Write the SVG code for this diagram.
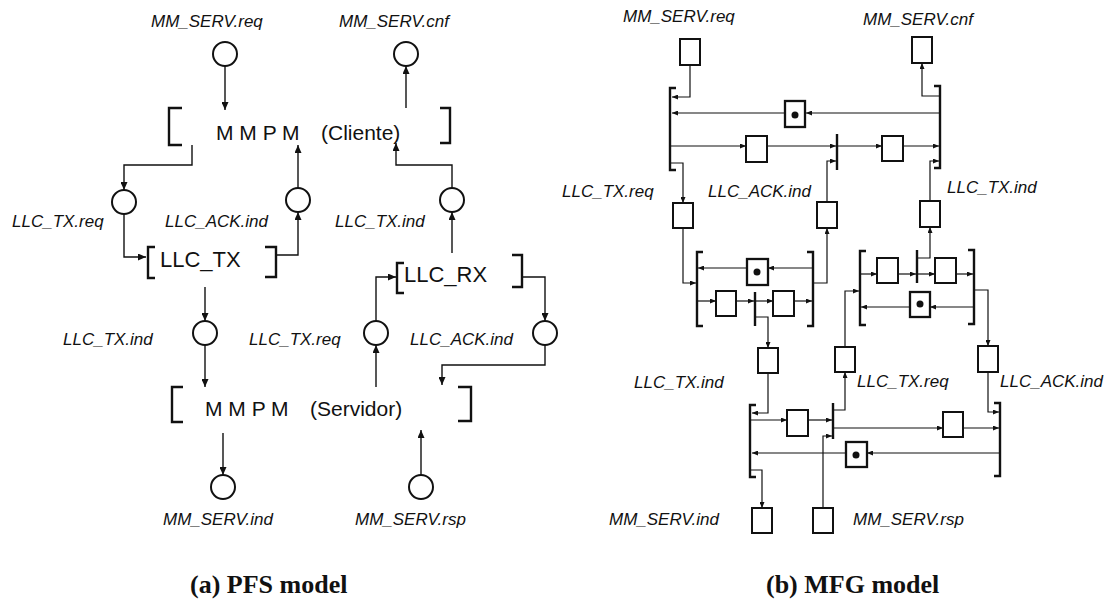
<svg xmlns="http://www.w3.org/2000/svg" width="1109" height="604" viewBox="0 0 1109 604">
<defs>
<marker id="a" viewBox="0 0 8 7" refX="8" refY="3.5" markerWidth="8" markerHeight="7" markerUnits="userSpaceOnUse" orient="auto"><path d="M0,0 L8,3.5 L0,7 z" fill="#111"/></marker>
<marker id="s" viewBox="0 0 6 5" refX="6" refY="2.5" markerWidth="6" markerHeight="5" markerUnits="userSpaceOnUse" orient="auto"><path d="M0,0 L6,2.5 L0,5 z" fill="#111"/></marker>
<style>
.ln{fill:none;stroke:#111;stroke-width:1.4;marker-end:url(#a)}
.rl{fill:none;stroke:#111;stroke-width:1.2;marker-end:url(#s)}
.c{fill:#fff;stroke:#111;stroke-width:2}
.br{fill:none;stroke:#111;stroke-width:2.4}
.bar{fill:none;stroke:#111;stroke-width:2.4}
.bx{fill:#fff;stroke:#111;stroke-width:2}
.dbx{fill:#fff;stroke:#111;stroke-width:2.3}
.dot{fill:#111}
.lbl{font-family:"Liberation Sans",Arial,sans-serif;font-style:italic;font-size:17px;fill:#111}
.big{font-family:"Liberation Sans",Arial,sans-serif;font-size:21px;fill:#111}
.cap{font-family:"Liberation Serif","Times New Roman",serif;font-weight:bold;font-size:26px;fill:#111}
</style>
</defs>
<rect width="1109" height="604" fill="#fff"/>

<g id="connectors">
<!-- PFS -->
<path class="ln" d="M225,66 V110"/>
<path class="ln" d="M192,145 V165 H124 V190"/>
<path class="ln" d="M124,214 V257 H146"/>
<path class="ln" d="M277,255 H298 V212"/>
<path class="ln" d="M298,188 V145"/>
<path class="ln" d="M406,108 V66"/>
<path class="ln" d="M452,253 V212"/>
<path class="ln" d="M452,188 V165 H396 V143"/>
<path class="ln" d="M205,287 V321"/>
<path class="ln" d="M205,345 V387"/>
<path class="ln" d="M376,387 V345"/>
<path class="ln" d="M376,321 V277 H396"/>
<path class="ln" d="M522,277 H545 V321"/>
<path class="ln" d="M545,345 V365 H442 V385"/>
<path class="ln" d="M223,433 V475"/>
<path class="ln" d="M421,475 V430"/>
<!-- MFG top block -->
<path class="rl" d="M690,65 V97 H672"/>
<path class="rl" d="M939,113 H806"/>
<path class="rl" d="M785,113 H672"/>
<path class="rl" d="M671,146 H746"/>
<path class="rl" d="M767,146 H836"/>
<path class="rl" d="M838,146 H882"/>
<path class="rl" d="M903,146 H939"/>
<path class="rl" d="M827,202 V161 H836"/>
<path class="rl" d="M930,201 V161 H939"/>
<path class="rl" d="M940,96 H922 V63"/>
<path class="rl" d="M671,163 H683 V203"/>
<!-- sub-block 1 -->
<path class="rl" d="M683,228 V283 H696"/>
<path class="rl" d="M812,268 H768"/>
<path class="rl" d="M747,268 H698"/>
<path class="rl" d="M698,301 H716"/>
<path class="rl" d="M736,301 H754"/>
<path class="rl" d="M756,301 H773"/>
<path class="rl" d="M794,301 H812"/>
<path class="rl" d="M755,317 H768 V348"/>
<path class="rl" d="M813,283 H827 V228"/>
<!-- sub-block 2 -->
<path class="rl" d="M845,347 V291 H859"/>
<path class="rl" d="M861,274 H877"/>
<path class="rl" d="M898,274 H916"/>
<path class="rl" d="M918,274 H935"/>
<path class="rl" d="M956,274 H973"/>
<path class="rl" d="M973,307 H930"/>
<path class="rl" d="M910,307 H861"/>
<path class="rl" d="M917,258 H930 V227"/>
<path class="rl" d="M974,290 H988 V346"/>
<!-- bottom block -->
<path class="rl" d="M768,373 V413 H752"/>
<path class="rl" d="M751,420 H787"/>
<path class="rl" d="M808,420 H832"/>
<path class="rl" d="M823,508 V436 H832"/>
<path class="rl" d="M834,410 H845 V372"/>
<path class="rl" d="M834,428 H943"/>
<path class="rl" d="M963,428 H999"/>
<path class="rl" d="M988,372 V412 H999"/>
<path class="rl" d="M999,453 H867"/>
<path class="rl" d="M846,453 H752"/>
<path class="rl" d="M751,470 H762 V508"/>
</g>

<!-- PFS places -->
<g id="pfs-mm-serv-req"><circle class="c" cx="225" cy="54" r="12"/><text class="lbl" x="151" y="27">MM_SERV.req</text></g>
<g id="pfs-mm-serv-cnf"><circle class="c" cx="406" cy="54" r="12"/><text class="lbl" x="339" y="27">MM_SERV.cnf</text></g>
<g id="pfs-llc-tx-req-1"><circle class="c" cx="124" cy="202" r="12"/><text class="lbl" x="12" y="227">LLC_TX.req</text></g>
<g id="pfs-llc-ack-ind-1"><circle class="c" cx="298" cy="200" r="12"/><text class="lbl" x="165" y="227">LLC_ACK.ind</text></g>
<g id="pfs-llc-tx-ind-1"><circle class="c" cx="452" cy="200" r="12"/><text class="lbl" x="335" y="227">LLC_TX.ind</text></g>
<g id="pfs-llc-tx-ind-2"><circle class="c" cx="205" cy="333" r="12"/><text class="lbl" x="63" y="345">LLC_TX.ind</text></g>
<g id="pfs-llc-tx-req-2"><circle class="c" cx="376" cy="333" r="12"/><text class="lbl" x="249" y="345">LLC_TX.req</text></g>
<g id="pfs-llc-ack-ind-2"><circle class="c" cx="545" cy="333" r="12"/><text class="lbl" x="410" y="345">LLC_ACK.ind</text></g>
<g id="pfs-mm-serv-ind"><circle class="c" cx="223" cy="487" r="12"/><text class="lbl" x="163" y="525">MM_SERV.ind</text></g>
<g id="pfs-mm-serv-rsp"><circle class="c" cx="421" cy="487" r="12"/><text class="lbl" x="355" y="525">MM_SERV.rsp</text></g>

<!-- PFS activities -->
<g id="pfs-mmpm-cliente"><path class="br" d="M182,108 H169 V145 H182"/><path class="br" d="M440,108 H450 V143 H440"/><text class="big" y="140"><tspan x="216">M M P M</tspan><tspan x="321">(Cliente)</tspan></text></g>
<g id="pfs-llc-tx"><path class="br" d="M155,247 H148 V278 H155"/><path class="br" d="M265,247 H276 V277 H265"/><text class="big" x="160" y="267" style="font-size:22px">LLC_TX</text></g>
<g id="pfs-llc-rx"><path class="br" d="M404,263 H397 V293 H404"/><path class="br" d="M512,255 H522 V287 H512"/><text class="big" x="404" y="282" style="font-size:22px">LLC_RX</text></g>
<g id="pfs-mmpm-servidor"><path class="br" d="M183,387 H172 V422 H183"/><path class="br" d="M458,387 H471 V421 H458"/><text class="big" y="416"><tspan x="205">M M P M</tspan><tspan x="310">(Servidor)</tspan></text></g>

<!-- MFG labels -->
<g id="mfg-labels">
<text class="lbl" x="623" y="22">MM_SERV.req</text>
<text class="lbl" x="863" y="25">MM_SERV.cnf</text>
<text class="lbl" x="562" y="197">LLC_TX.req</text>
<text class="lbl" x="708" y="197">LLC_ACK.ind</text>
<text class="lbl" x="947" y="193">LLC_TX.ind</text>
<text class="lbl" x="634" y="388">LLC_TX.ind</text>
<text class="lbl" x="857" y="387">LLC_TX.req</text>
<text class="lbl" x="1000" y="387">LLC_ACK.ind</text>
<text class="lbl" x="609" y="525">MM_SERV.ind</text>
<text class="lbl" x="853" y="525">MM_SERV.rsp</text>
</g>

<!-- MFG boxes -->
<g id="mfg-req"><rect class="bx" x="680" y="39" width="20" height="26"/></g>
<g id="mfg-cnf"><rect class="bx" x="912" y="37" width="20" height="26"/></g>
<g id="mfg-d1"><rect class="dbx" x="785" y="101" width="20" height="26"/><circle class="dot" cx="795" cy="115" r="3.5"/></g>
<g id="mfg-b1"><rect class="bx" x="746" y="136" width="21" height="26"/></g>
<g id="mfg-b2"><rect class="bx" x="882" y="136" width="21" height="25"/></g>
<g id="mfg-llc-tx-req-1"><rect class="bx" x="673" y="203" width="20" height="25"/></g>
<g id="mfg-llc-ack-ind-1"><rect class="bx" x="817" y="202" width="20" height="26"/></g>
<g id="mfg-llc-tx-ind-1"><rect class="bx" x="920" y="201" width="20" height="26"/></g>
<g id="mfg-d2"><rect class="dbx" x="747" y="259" width="21" height="26"/><circle class="dot" cx="757" cy="272" r="3.5"/></g>
<g id="mfg-s1a"><rect class="bx" x="716" y="291" width="20" height="25"/></g>
<g id="mfg-s1b"><rect class="bx" x="773" y="291" width="21" height="25"/></g>
<g id="mfg-s2a"><rect class="bx" x="877" y="258" width="21" height="25"/></g>
<g id="mfg-s2b"><rect class="bx" x="935" y="258" width="21" height="25"/></g>
<g id="mfg-d3"><rect class="dbx" x="910" y="292" width="20" height="25"/><circle class="dot" cx="920" cy="304" r="3.5"/></g>
<g id="mfg-llc-tx-ind-2"><rect class="bx" x="758" y="348" width="20" height="25"/></g>
<g id="mfg-llc-tx-req-2"><rect class="bx" x="835" y="347" width="20" height="25"/></g>
<g id="mfg-llc-ack-ind-2"><rect class="bx" x="978" y="346" width="20" height="26"/></g>
<g id="mfg-c1"><rect class="bx" x="787" y="410" width="21" height="26"/></g>
<g id="mfg-c3"><rect class="bx" x="943" y="412" width="20" height="25"/></g>
<g id="mfg-d4"><rect class="dbx" x="846" y="442" width="21" height="25"/><circle class="dot" cx="856" cy="455" r="3.5"/></g>
<g id="mfg-mm-serv-ind"><rect class="bx" x="752" y="508" width="20" height="25"/></g>
<g id="mfg-mm-serv-rsp"><rect class="bx" x="813" y="508" width="20" height="25"/></g>

<!-- MFG bars -->
<g id="mfg-top-left"><path class="bar" d="M676,88 H670 V170 H676"/></g>
<g id="mfg-top-right"><path class="bar" d="M934,86 H940 V168 H934"/></g>
<g id="mfg-top-mid"><path class="bar" d="M837,134 V170"/></g>
<g id="mfg-s1-left"><path class="bar" d="M703,252 H697 V326 H703"/></g>
<g id="mfg-s1-right"><path class="bar" d="M807,252 H813 V326 H807"/></g>
<g id="mfg-s1-mid"><path class="bar" d="M755,292 V326"/></g>
<g id="mfg-s2-left"><path class="bar" d="M866,251 H860 V325 H866"/></g>
<g id="mfg-s2-right"><path class="bar" d="M968,250 H974 V324 H968"/></g>
<g id="mfg-s2-mid"><path class="bar" d="M917,250 V283"/></g>
<g id="mfg-bot-left"><path class="bar" d="M756,405 H750 V477 H756"/></g>
<g id="mfg-bot-right"><path class="bar" d="M994,403 H1000 V476 H994"/></g>
<g id="mfg-bot-mid"><path class="bar" d="M833,403 V439"/></g>

<text class="cap" x="190" y="593">(a) PFS model</text>
<text class="cap" x="766" y="593">(b) MFG model</text>
</svg>
